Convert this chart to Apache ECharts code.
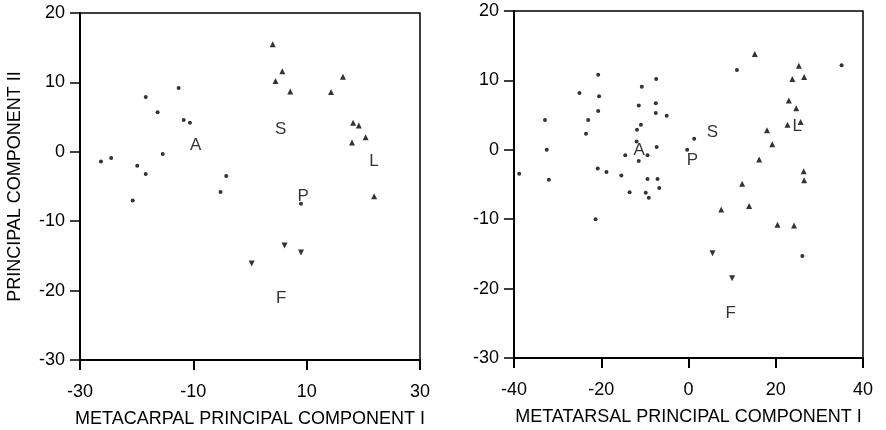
<!DOCTYPE html>
<html>
<head>
<meta charset="utf-8">
<script src="https://cdn.jsdelivr.net/npm/echarts@6/dist/echarts.min.js"></script>
<style>
  html, body { margin: 0; padding: 0; background: #fff; }
  #chart { width: 886px; height: 430px; }
</style>
</head>
<body>
<div id="chart"></div>
<script>
// metacarpal (left) groups
const carpalCircles = [
  [-26.3, -1.4], [-24.5, -0.9], [-19.9, -2.0], [-18.4, -3.2], [-20.7, -7.0],
  [-18.4, 7.9], [-16.3, 5.7], [-15.4, -0.3], [-12.6, 9.2], [-11.7, 4.6],
  [-10.6, 4.2], [-5.2, -5.8], [-4.2, -3.5], [9.0, -7.5]
];
const carpalUp = [
  [4.0, 15.5], [4.5, 10.2], [5.7, 11.6], [7.1, 8.7], [14.3, 8.6], [16.4, 10.8],
  [18.2, 4.2], [19.2, 3.8], [18.0, 1.35], [20.4, 2.1], [21.9, -6.4]
];
const carpalDown = [[0.3, -16.1], [6.1, -13.5], [9.0, -14.5]];
const carpalLabels = [
  ['A', -9.6, 0.9], ['S', 5.4, 3.3], ['L', 21.9, -1.3], ['P', 9.4, -6.4], ['F', 5.5, -21.1]
];

// metatarsal (right) groups
const tarsalCircles = [
  [-38.8, -3.45], [-32.9, 4.3], [-32.5, 0], [-32.0, -4.3], [-25.0, 8.2],
  [-23.0, 4.3], [-23.5, 2.3], [-20.7, 10.8], [-20.5, 7.7], [-20.7, 5.6],
  [-20.8, -2.7], [-18.8, -3.2], [-15.4, -3.7], [-14.5, -0.8], [-13.5, -6.1],
  [-11.8, 2.9], [-10.9, 3.6], [-11.4, 6.4], [-10.7, 9.1], [-11.9, 1.2],
  [-11.4, -1.6], [-9.4, -0.8], [-9.8, -6.2], [-9.1, -6.9], [-9.4, -4.2],
  [-7.4, 10.2], [-7.5, 6.7], [-7.5, 5.3], [-7.3, 0.4], [-7.1, -4.2],
  [-6.7, -5.5], [-5.0, 4.9], [-21.3, -10.0], [-0.3, 0], [1.3, 1.6],
  [11.1, 11.5], [35.1, 12.2], [26.1, -15.3]
];
const tarsalUp = [
  [15.2, 13.8], [18.0, 2.8], [19.2, 0.8], [16.2, -1.4], [12.3, -4.9],
  [23.0, 7.1], [23.8, 10.2], [25.3, 12.1], [26.5, 10.5], [24.7, 6.0],
  [22.7, 3.6], [25.7, 4.0], [26.4, -3.1], [26.5, -4.4], [7.5, -8.6],
  [13.9, -8.1], [20.4, -10.8], [24.2, -10.9]
];
const tarsalDown = [[5.5, -14.9], [10.0, -18.5]];
const tarsalLabels = [
  ['A', -11.3, -0.1], ['P', 0.9, -1.5], ['S', 5.5, 2.5], ['L', 24.9, 3.4], ['F', 9.7, -23.5]
];

const font = 'Liberation Sans, Arial, sans-serif';
const chart = echarts.init(document.getElementById('chart'));

function xAxisOf(idx, min, max, interval, name) {
  return {
    type: 'value', gridIndex: idx, min: min, max: max, interval: interval,
    name: name, nameLocation: 'middle', nameGap: 50,
    nameTextStyle: { color: '#000', fontSize: 18, fontFamily: font },
    splitLine: { show: false },
    axisLine: { onZero: false, lineStyle: { color: '#000', width: 2 } },
    axisTick: { length: 10, lineStyle: { color: '#000', width: 2 } },
    axisLabel: { color: '#000', fontSize: 18, fontFamily: font, margin: 23, showMinLabel: true, showMaxLabel: true }
  };
}
function yAxisOf(idx, name) {
  return {
    type: 'value', gridIndex: idx, min: -30, max: 20, interval: 10,
    name: name, nameLocation: 'middle', nameGap: 56,
    nameTextStyle: { color: '#000', fontSize: 18, fontFamily: font },
    splitLine: { show: false },
    axisLine: { onZero: false, lineStyle: { color: '#000', width: 2 } },
    axisTick: { length: 10, lineStyle: { color: '#000', width: 1.5 } },
    axisLabel: { color: '#000', fontSize: 18, fontFamily: font, margin: 15, showMinLabel: true, showMaxLabel: true }
  };
}
function pts(idx, data, symbol, size, rotate) {
  return {
    type: 'scatter', xAxisIndex: idx, yAxisIndex: idx, data: data,
    symbol: symbol, symbolSize: size, symbolRotate: rotate || 0,
    itemStyle: { color: '#000' }, silent: true, animation: false
  };
}
function labels(idx, list) {
  return {
    type: 'scatter', xAxisIndex: idx, yAxisIndex: idx,
    data: list.map(l => ({ name: l[0], value: [l[1], l[2]] })),
    symbolSize: 1, itemStyle: { color: 'rgba(0,0,0,0)' }, silent: true, animation: false,
    label: { show: true, position: 'inside', formatter: '{b}', color: '#000', fontSize: 17, fontFamily: font }
  };
}

chart.setOption({
  backgroundColor: '#fff',
  grid: [
    { left: 80, top: 13, width: 340, height: 347, show: true, borderColor: '#000', borderWidth: 1.5, outerBoundsMode: 'none' },
    { left: 514, top: 11, width: 349, height: 347, show: true, borderColor: '#000', borderWidth: 1.5, outerBoundsMode: 'none' }
  ],
  xAxis: [
    xAxisOf(0, -30, 30, 20, 'METACARPAL PRINCIPAL COMPONENT I'),
    xAxisOf(1, -40, 40, 20, 'METATARSAL PRINCIPAL COMPONENT I')
  ],
  yAxis: [
    yAxisOf(0, 'PRINCIPAL COMPONENT II'),
    yAxisOf(1, '')
  ],
  series: [
    pts(0, carpalCircles, 'circle', 4),
    pts(0, carpalUp, 'triangle', 6),
    pts(0, carpalDown, 'triangle', 6, 180),
    labels(0, carpalLabels),
    pts(1, tarsalCircles, 'circle', 4),
    pts(1, tarsalUp, 'triangle', 6),
    pts(1, tarsalDown, 'triangle', 6, 180),
    labels(1, tarsalLabels)
  ]
});
</script>
</body>
</html>
